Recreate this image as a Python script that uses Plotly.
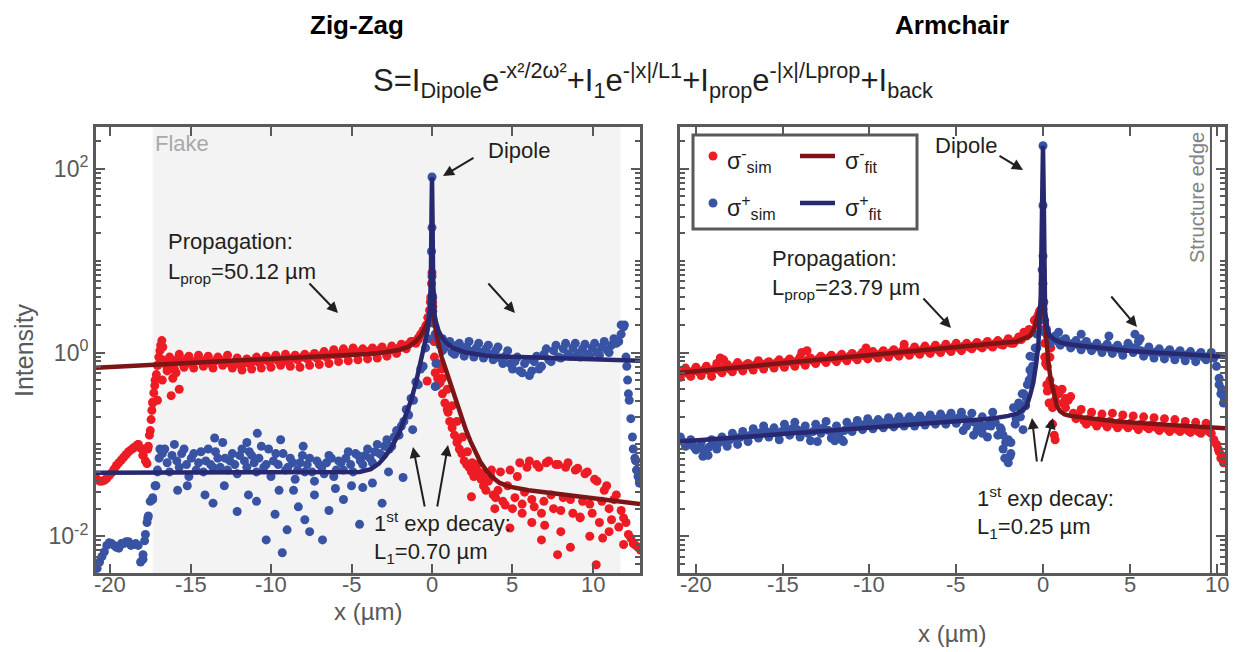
import numpy as np
import plotly.graph_objects as go

OFF = 8                      # page body margin of the browser
W, H = 1238 - OFF, 652 - OFF
FONT = "Arial, Liberation Sans, sans-serif"
AX = "#58595b"
TXT = "#231f20"
RED, BLUE = "#ed1c24", "#3953a4"
RED_FIT, BLUE_FIT = "#7d1517", "#27286f"

# ===================== DATA (log10 of intensity) =====================
# ---- Zig-Zag panel: two interleaved regular x samplings (row a, row b) ----
zz_xa_start, zz_xb_start, zz_x_step = -20.8, -20.65, 0.3
zz_minus_log_a = [
    -1.38, -1.40, -1.37, -1.31, -1.23, -1.17, -1.11, -1.06, -1.02, -1.04, -1.18, -0.85, -0.30, 0.02, -0.12, -0.05,
    -0.18, -0.02, -0.16, -0.04, -0.17, -0.03, -0.15, -0.04, -0.17, -0.05, -0.14, -0.03, -0.17, -0.06, -0.19, -0.07,
    -0.18, -0.05, -0.17, -0.04, -0.16, -0.03, -0.14, -0.02, -0.15, -0.03, -0.16, -0.02, -0.14, -0.01, -0.13, 0.01,
    -0.12, 0.03, -0.10, 0.04, -0.09, 0.05, -0.08, 0.04, -0.07, 0.05, -0.06, 0.06, -0.04, 0.07, -0.01, 0.09, 0.04, 0.12,
    0.10, 0.20, 0.28, 0.55,
    -0.22, -0.33, -0.55, -0.75, -0.90, -1.05, -1.18, -1.25, -1.35, -1.30, -1.45, -1.40, -1.55, -1.50, -1.62, -1.45,
    -1.70, -1.35, -1.65, -1.25, -1.60, -1.22, -1.75, -1.20, -1.55, -1.22, -1.72, -1.25, -1.60, -1.28, -1.80, -1.32,
    -1.65, -1.38, -1.85, -1.50, -1.70, -1.60, -1.90, -1.80, -1.98, -2.08, -2.12]
zz_minus_log_b = [
    -1.40, -1.39, -1.34, -1.27, -1.20, -1.14, -1.08, -1.04, -1.00, -1.12, -1.05, -0.55, -0.14, -0.08, -0.17, -0.09,
    -0.08, -0.11, -0.07, -0.12, -0.09, -0.10, -0.08, -0.12, -0.09, -0.08, -0.11, -0.12, -0.10, -0.13, -0.11, -0.12,
    -0.09, -0.11, -0.08, -0.10, -0.07, -0.09, -0.07, -0.10, -0.06, -0.08, -0.05, -0.07, -0.04, -0.06, -0.03, -0.05,
    -0.02, -0.03, -0.01, -0.02, 0.00, -0.01, 0.01, 0.00, 0.02, 0.00, 0.03, 0.01,
    0.02, 0.03, 0.05, 0.06, 0.09, 0.12, 0.16, 0.24, 0.38, 0.50,
    -0.28, -0.45, -0.62, -0.82, -0.98, -1.10, -1.22, -1.30, -1.28, -1.38, -1.50, -1.35, -1.58, -1.30, -1.66, -1.28,
    -1.58, -1.20, -1.52, -1.18, -1.68, -1.25, -1.62, -1.18, -1.70, -1.22, -1.58, -1.20, -1.75, -1.26, -1.62, -1.30,
    -1.75, -1.40, -1.62, -1.45, -1.82, -1.55, -1.72, -1.85, -2.02, -2.10, -2.15]
zz_plus_log_a = [
    -2.35, -2.22, -2.10, -2.08, -2.12, -2.08, -2.06, -2.10, -2.08, -2.28, -1.98, -1.62, -1.45, -1.05,
    -1.05, -1.30, -1.00, -1.25, -1.05, -1.35, -1.10, -1.20, -1.30, -1.05, -1.25, -1.15, -0.98, -1.28, -1.10, -1.32,
    -1.05, -1.25, -1.12, -1.30, -1.02, -1.22, -1.35, -1.10, -0.95, -1.28, -1.15, -1.38, -1.20, -1.30, -1.15, -1.40,
    -1.22, -1.32, -1.12, -1.35, -1.18, -1.28, -1.08, -1.30, -1.12, -1.22, -1.05, -1.20, -1.00, -1.12, -0.95, -1.02,
    -0.85, -0.80, -0.62, -0.50, -0.32, -0.18, 0.05, 0.40,
    0.20, 0.08, 0.05, 0.12, -0.02, 0.10, -0.04, 0.12, -0.05, 0.10, -0.06, 0.08, -0.08, 0.06, -0.12, 0.02, -0.18,
    -0.05, -0.22, -0.08, -0.20, -0.04, -0.15, 0.04, -0.10, 0.08, -0.06, 0.10, -0.04, 0.10, -0.05, 0.09, -0.04, 0.10,
    -0.03, 0.12, 0.00, 0.15, 0.12, 0.28, -0.45, -1.05, -1.35]
zz_plus_log_b = [
    -2.28, -2.17, -2.07, -2.10, -2.13, -2.08, -2.06, -2.09, -2.10, -2.25, -1.80, -1.58, -1.28, -1.10,
    -1.20, -1.12, -1.18, -1.10, -1.22, -1.15, -1.28, -1.08, -1.18, -1.22, -1.08, -1.25, -1.15, -1.18, -1.22, -1.12,
    -1.18, -1.08, -1.20, -1.15, -1.25, -1.05, -1.18, -1.22, -1.10, -1.25, -1.20, -1.28, -1.12, -1.22, -1.30, -1.18,
    -1.25, -1.20, -1.15, -1.28, -1.20, -1.15, -1.22, -1.10, -1.18, -1.12, -1.15, -1.08, -1.10, -1.02, -1.05, -0.92,
    -0.90, -0.75, -0.68, -0.52, -0.35, -0.15, 0.15, 0.60,
    0.15, 0.02, 0.10, 0.00, 0.08, 0.02, 0.06, 0.01, 0.05, 0.00, 0.04, -0.02, 0.02, -0.06, -0.04, -0.12, -0.10,
    -0.20, -0.12, -0.25, -0.10, -0.18, -0.02, -0.08, 0.02, -0.05, 0.04, -0.02, 0.05, -0.01, 0.04, -0.02, 0.05, 0.00,
    0.06, 0.03, 0.08, 0.10, 0.30, -0.05, -0.72, -1.18, -1.42]
zz_minus_extra_x = [
    -18.25, -17.95, -17.7, -17.62, -17.55, -17.45, -17.4, -17.35, -17.28, -17.22, -17.12, -17.05, -16.97, -16.85,
    -16.78, -16.72, -17.05, -16.75, -16.45, -16.2, -15.7, -16.1, -15.9,
    -0.85, -0.55, -0.35, -0.25, -0.15, -0.08, -0.03, 0.0, 0.04, 0.08, 0.12, 0.15,
    -0.3, 0.3, 0.35, 0.6, 0.65, 0.95, 1.25, 1.0, 1.55, 1.6, 1.9, 2.2, 2.45, 2.5, 2.8, 3.1, 3.4, 3.7,
    4.84, 6.8, 7.8, 9.2, 10.2, 11.9, 6.2, 8.0, 9.8, 5.6, 11.0, 3.9, 7.0, 8.6, 10.6]
zz_minus_extra_log = [
    -1.00, -1.12, -1.21, -1.02, -0.90, -0.73, -0.63, -0.54, -0.44, -0.36, -0.24, -0.14, -0.05, 0.08,
    0.13, 0.06, -0.52, -0.30, -0.20, -0.47, -0.40, -0.28, -0.22,
    0.14, 0.22, 0.30, 0.38, 0.46, 0.60, 0.75, 0.87, 0.55, 0.32, 0.12, -0.05,
    -0.31, -0.36, -0.12, -0.18, -0.28, -0.40, -0.58, -0.65, -0.75, -0.95, -0.92, -1.08, -1.57, -1.20, -1.22,
    -1.32, -1.38, -1.28,
    -1.91, -2.04, -2.20, -1.79, -2.31, -2.09, -1.85, -1.95, -2.00, -1.75, -1.95, -1.70, -1.88, -2.12, -2.02]
zz_plus_extra_x = [
    -17.95, -17.85, -17.7, -17.62, -17.35, -17.15, -17.05, -16.95,
    -14.1, -13.6, -12.1, -10.3, -9.75, -9.3, -9.0, -7.9, -6.8, -4.5, -4.3, -1.8, -3.1,
    -15.8, -15.2, -11.4, -10.9, -8.6, -8.3, -7.3, -6.4, -6.0, -5.5, -5.0, -3.7, -2.7, -12.9, -9.5, -7.6,
    -13.5, -10.85, -11.5, -8.0,
    -1.2, 0.0, 0.0, 0.0, -0.03, 0.02, 0.05, 0.1, 0.2, 0.25, 0.35, 0.65,
    11.75, 11.95, 12.1, 12.15, 12.25, 12.45, 12.6, 12.7, 12.88]
zz_plus_extra_log = [
    -2.20, -2.05, -1.85, -1.78, -1.60, -1.45, -1.30, -1.15,
    -1.55, -1.64, -1.73, -2.04, -1.76, -2.18, -1.93, -1.82, -2.04, -1.87, -1.47, -1.36, -1.64,
    -1.50, -1.45, -1.55, -1.62, -1.50, -1.68, -1.55, -1.72, -1.48, -1.60, -1.45, -1.42, -1.30, -1.45, -1.50, -1.95,
    -0.93, -0.88, -0.98, -1.02,
    -0.84, 1.91, 1.36, 0.83, 1.10, 0.62, 0.45, 0.32, -0.37, -0.12, 0.15, 0.15,
    0.20, 0.30, -0.15, -0.30, -0.52, -0.92, -1.15, -1.28, -1.42]
zz_minus_fit_x = [-20.87, -15, -10, -6, -4, -3, -2, -1.5, -1.0, -0.7, -0.5, -0.3, -0.15, -0.05, 0.0,
                  0.05, 0.15, 0.3, 0.44, 0.6, 0.87, 1.2, 1.5, 1.8, 2.1, 2.4, 2.7, 3.0, 3.4, 3.7, 4.2, 4.8,
                  6.0, 7.9, 10.0, 12.92]
zz_minus_fit_log = [-0.165, -0.115, -0.07, -0.035, -0.015, 0.0, 0.03, 0.06, 0.12, 0.18, 0.24, 0.32, 0.40, 0.60,
                    0.85, 0.55, 0.33, 0.18, 0.065, -0.05, -0.19, -0.37, -0.55, -0.70, -0.84, -0.97, -1.09,
                    -1.19, -1.29, -1.35, -1.42, -1.46, -1.50, -1.54, -1.59, -1.65]
zz_plus_fit_x = [-20.87, -6, -4.5, -3.8, -3.3, -2.9, -2.5, -2.0, -1.6, -1.3, -1.0, -0.75, -0.5, -0.3, -0.15,
                 -0.07, -0.03, 0.0, 0.03, 0.07, 0.15, 0.25, 0.4, 0.6, 0.87, 1.3, 2.1, 3.0, 3.7, 5.5, 7.9,
                 10.5, 12.92]
zz_plus_fit_log = [-1.31, -1.31, -1.30, -1.27, -1.21, -1.13, -1.03, -0.86, -0.68, -0.52, -0.33, -0.15, 0.05,
                   0.22, 0.38, 0.80, 1.50, 1.91, 1.50, 0.80, 0.42, 0.33, 0.24, 0.17, 0.11, 0.05, 0.0, -0.025,
                   -0.04, -0.05, -0.06, -0.075, -0.09]

# ---- Armchair panel ----
ac_xa_start, ac_xb_start, ac_x_step = -20.9, -20.75, 0.3
ac_minus_log_a = [
    -0.27, -0.17, -0.26, -0.16, -0.25, -0.15, -0.26, -0.12, -0.22, -0.13, -0.21, -0.11, -0.20, -0.12, -0.19, -0.09,
    -0.18, -0.10, -0.17, -0.08, -0.16, -0.07, -0.15, -0.05, -0.14, -0.06, -0.12, -0.04, -0.11, -0.03, -0.10, -0.02,
    -0.09, -0.01, -0.08, 0.00, -0.07, 0.01, -0.06, 0.02, -0.05, 0.03, -0.04, 0.05, -0.03, 0.06, -0.02, 0.07, -0.01,
    0.08, 0.00, 0.09, 0.01, 0.10, 0.02, 0.10, 0.04, 0.11, 0.05, 0.12, 0.06, 0.13, 0.08, 0.15, 0.10, 0.17, 0.22, 0.25,
    0.35, 0.45,
    -0.05, -0.30, -0.52, -0.42, -0.60, -0.48, -0.72, -0.62, -0.78, -0.65, -0.80, -0.67, -0.81, -0.66, -0.82, -0.68,
    -0.82, -0.69, -0.84, -0.70, -0.83, -0.71, -0.85, -0.72, -0.86, -0.73, -0.86, -0.75, -0.87, -0.76, -0.88, -0.77,
    -0.88, -1.00, -1.12]
ac_minus_log_b = [
    -0.21, -0.23, -0.20, -0.21, -0.19, -0.20, -0.18, -0.19, -0.16, -0.18, -0.15, -0.16, -0.14, -0.15, -0.13, -0.14,
    -0.12, -0.13, -0.11, -0.12, -0.10, -0.11, -0.09, -0.10, -0.08, -0.09, -0.07, -0.08, -0.06, -0.07, -0.05, -0.06,
    -0.04, -0.05, -0.03, -0.04, -0.02, -0.03, -0.01, -0.02, 0.00, -0.01, 0.01, 0.00, 0.02, 0.01, 0.03, 0.02, 0.04,
    0.03, 0.05, 0.04, 0.06, 0.05, 0.07, 0.06, 0.08, 0.07, 0.09, 0.08, 0.10, 0.09, 0.11, 0.10, 0.13, 0.14, 0.18, 0.22,
    0.30, 0.42,
    -0.15, -0.40, -0.45, -0.55, -0.52, -0.66, -0.70, -0.74, -0.72, -0.76, -0.74, -0.77, -0.75, -0.78, -0.76, -0.79,
    -0.77, -0.80, -0.78, -0.81, -0.79, -0.82, -0.80, -0.83, -0.81, -0.84, -0.82, -0.85, -0.83, -0.86, -0.84, -0.86,
    -0.95, -1.08, -1.18]
ac_plus_log_a = [
    -0.92, -1.02, -0.95, -1.06, -0.98, -1.10, -0.95, -1.05, -0.92, -1.02, -0.88, -1.00, -0.86, -0.97, -0.83, -0.93,
    -0.80, -0.92, -0.82, -0.95, -0.78, -0.90, -0.76, -0.92, -0.80, -0.96, -0.78, -0.88, -0.75, -0.93, -0.80, -0.95,
    -0.76, -0.86, -0.74, -0.84, -0.72, -0.83, -0.73, -0.82, -0.71, -0.81, -0.70, -0.80, -0.70, -0.80, -0.69, -0.79,
    -0.68, -0.78, -0.67, -0.78, -0.66, -0.77, -0.65, -0.80, -0.66, -0.84, -0.70, -0.92, -0.65, -0.90, -1.05, -0.95,
    -0.60, -0.55, -0.45, -0.30, -0.05, 0.35,
    0.22, 0.10, 0.18, 0.08, 0.15, 0.05, 0.13, 0.03, 0.12, 0.02, 0.10, 0.00, 0.09, -0.01, 0.08, -0.03, 0.10, 0.00,
    0.12, -0.04, 0.06, -0.06, 0.04, -0.07, 0.03, -0.08, 0.02, -0.09, 0.01, -0.10, 0.00, -0.08, 0.00, -0.15, -0.40]
ac_plus_log_b = [
    -0.97, -1.00, -1.02, -1.04, -1.06, -1.03, -1.00, -0.98, -0.96, -0.95, -0.93, -0.92, -0.91, -0.90, -0.88, -0.87,
    -0.86, -0.87, -0.88, -0.86, -0.84, -0.83, -0.84, -0.86, -0.88, -0.86, -0.83, -0.82, -0.85, -0.87, -0.88, -0.85,
    -0.81, -0.80, -0.79, -0.78, -0.77, -0.77, -0.76, -0.76, -0.75, -0.75, -0.75, -0.74, -0.74, -0.73, -0.73, -0.73,
    -0.72, -0.72, -0.72, -0.71, -0.72, -0.71, -0.72, -0.74, -0.76, -0.78, -0.80, -0.74, -0.76, -0.82, -0.98, -1.10,
    -0.72, -0.62, -0.50, -0.25, 0.05, 0.90,
    0.18, 0.14, 0.12, 0.13, 0.10, 0.10, 0.08, 0.09, 0.07, 0.06, 0.05, 0.06, 0.04, 0.05, 0.03, 0.04, 0.06, 0.05,
    0.02, 0.01, 0.00, 0.01, -0.01, 0.00, -0.02, -0.01, -0.03, -0.02, -0.04, -0.03, -0.05, -0.04, -0.06, -0.28, -0.50]
ac_minus_extra_x = [
    -0.35, -0.25, -0.12, 0.0, 0.05, 0.1, 0.15, 0.22, 0.35, 0.4, 0.45,
    0.25, 0.5, 0.7, 0.9, 1.1, 1.3, 0.35, 0.55, 0.55, 0.65, 0.7,
    -18.6, -18.4, -13.9, -13.6, -10.2, -8.0, 10.1, 10.25, 10.4]
ac_minus_extra_log = [
    0.38, 0.42, 0.47, 0.47, 0.25, 0.10, -0.12, -0.35, 0.15, -0.05, 0.05,
    -0.42, -0.38, -0.40, -0.45, -0.40, -0.50, -0.55, -0.60, -0.78, -0.90, -0.95,
    -0.06, -0.08, 0.00, 0.02, 0.05, 0.09, -1.05, -1.15, -1.20]
ac_plus_extra_x = [
    -2.3, -2.2, -2.0, -1.9, -1.85, -2.4, -1.15, -1.6, -1.3, -1.2, -1.0, -0.9, -0.75, -0.75, -0.6, -0.45, -0.35,
    -4.6, -4.0, -3.5, -3.0, -19.6, -19.3, -13.0, -12.0, -11.5,
    0.0, 0.0, 0.0, 0.0, -0.05, 0.05, 0.1, 0.2,
    5.3, 3.8, 2.2, 0.9, 5.6, 10.15, 10.25, 10.4]
ac_plus_extra_log = [
    -0.90, -1.15, -1.20, -1.13, -0.98, -0.84, -0.84, -0.78, -0.70, -0.45, -0.58, -0.35, -0.04, -0.19, -0.15,
    0.05, 0.20, -0.85, -0.90, -0.88, -0.80, -1.13, -1.12, -0.97, -0.96, -0.97,
    2.25, 1.05, 1.60, 0.75, 0.45, 0.55, 0.35, 0.25,
    0.20, 0.18, 0.20, 0.22, 0.15, -0.35, -0.45, -0.55]
ac_minus_fit_x = [-20.92, -15, -10, -5, -3, -1.52, -1.2, -0.75, -0.55, -0.29, -0.15, 0.0, 0.1, 0.2, 0.31,
                  0.45, 0.6, 0.8, 0.98, 1.25, 1.56, 2.5, 4.25, 7.0, 10.49]
ac_minus_fit_log = [-0.22, -0.12, -0.035, 0.05, 0.085, 0.12, 0.145, 0.18, 0.24, 0.39, 0.50, 0.60, 0.35, 0.10,
                    -0.11, -0.30, -0.44, -0.58, -0.64, -0.675, -0.69, -0.715, -0.75, -0.785, -0.825]
ac_plus_fit_x = [-20.92, -15, -10, -5, -3, -2, -1.5, -1.2, -0.94, -0.75, -0.56, -0.4, -0.27, -0.13, -0.05, 0.0,
                 0.05, 0.12, 0.25, 0.4, 0.65, 0.98, 1.5, 2.3, 5.2, 10.49]
ac_plus_fit_log = [-0.97, -0.885, -0.81, -0.75, -0.72, -0.69, -0.665, -0.63, -0.58, -0.47, -0.33, -0.13, 0.07,
                   0.61, 1.60, 2.25, 1.60, 0.45, 0.26, 0.18, 0.14, 0.11, 0.09, 0.07, 0.014, -0.045]

x_tick_vals = [-20, -15, -10, -5, 0, 5, 10]
x_tick_text = ["-20", "-15", "-10", "-5", "0", "5", "10"]
y_tick_vals = [1e-2, 1e0, 1e2]
y_tick_text = ["10<sup>-2</sup>", "10<sup>0</sup>", "10<sup>2</sup>"]
flake_edges = [-17.35, 11.7]
structure_edge_x = 9.68


# ===================== FIGURE =====================
def grid(start, step, vals):
    return list(np.round(start + step * np.arange(len(vals)), 3))


def sim(xs, logs, color, xa, ya):
    return go.Scatter(x=xs, y=np.power(10.0, np.array(logs)), mode="markers",
                      marker=dict(size=9, color=color, line=dict(width=0)),
                      xaxis=xa, yaxis=ya, showlegend=False, hoverinfo="skip")


def fit(xs, logs, color, xa, ya):
    return go.Scatter(x=xs, y=np.power(10.0, np.array(logs)), mode="lines",
                      line=dict(color=color, width=4.5), xaxis=xa, yaxis=ya,
                      showlegend=False, hoverinfo="skip")


def series(xa0, xb0, step, la, lb, ex, el):
    xs = grid(xa0, step, la) + grid(xb0, step, lb) + ex
    return xs, la + lb + el


fig = go.Figure()
zmx, zml = series(zz_xa_start, zz_xb_start, zz_x_step, zz_minus_log_a, zz_minus_log_b,
                  zz_minus_extra_x, zz_minus_extra_log)
zpx, zpl = series(zz_xa_start, zz_xb_start, zz_x_step, zz_plus_log_a, zz_plus_log_b,
                  zz_plus_extra_x, zz_plus_extra_log)
fig.add_trace(sim(zmx, zml, RED, "x", "y"))
fig.add_trace(sim(zpx, zpl, BLUE, "x", "y"))
fig.add_trace(fit(zz_minus_fit_x, zz_minus_fit_log, RED_FIT, "x", "y"))
fig.add_trace(fit(zz_plus_fit_x, zz_plus_fit_log, BLUE_FIT, "x", "y"))

amx, aml = series(ac_xa_start, ac_xb_start, ac_x_step, ac_minus_log_a, ac_minus_log_b,
                  ac_minus_extra_x, ac_minus_extra_log)
apx, apl = series(ac_xa_start, ac_xb_start, ac_x_step, ac_plus_log_a, ac_plus_log_b,
                  ac_plus_extra_x, ac_plus_extra_log)
fig.add_trace(sim(amx, aml, RED, "x2", "y2"))
fig.add_trace(sim(apx, apl, BLUE, "x2", "y2"))
fig.add_trace(fit(ac_minus_fit_x, ac_minus_fit_log, RED_FIT, "x2", "y2"))
fig.add_trace(fit(ac_plus_fit_x, ac_plus_fit_log, BLUE_FIT, "x2", "y2"))


def PX(x):
    return (x - OFF) / W


def PY(y):
    return 1 - (y - OFF) / H


ydom = [PY(573), PY(126.5)]
minor_vals = [k * 10.0 ** n for n in range(-3, 3) for k in range(1, 10)
              if not (k == 1 and n in (-2, 0, 2))]

xcommon = dict(showline=True, linewidth=3, linecolor=AX, mirror="allticks", ticks="inside",
               ticklen=9, tickwidth=2, tickcolor=AX, showgrid=False, zeroline=False,
               tickmode="array", tickvals=x_tick_vals, showticklabels=False)
ycommon = dict(type="log", range=[-2.40, 2.46], domain=ydom, showline=True, linewidth=3,
               linecolor=AX, mirror="allticks", ticks="inside", ticklen=9, tickwidth=2,
               tickcolor=AX, showgrid=False, zeroline=False, tickmode="array",
               tickvals=y_tick_vals, ticktext=y_tick_text,
               tickfont=dict(family=FONT, size=23, color=AX),
               minor=dict(tickmode="array", tickvals=minor_vals, ticks="inside", ticklen=5,
                          tickwidth=1.5, tickcolor=AX, showgrid=False))

fig.update_layout(
    width=W, height=H, margin=dict(l=0, r=0, t=0, b=0),
    paper_bgcolor="white", plot_bgcolor="white", showlegend=False,
    font=dict(family=FONT, color=TXT),
    xaxis=dict(xcommon, domain=[PX(96), PX(640)], range=[-20.87, 12.92], anchor="y"),
    yaxis=dict(ycommon, anchor="x"),
    xaxis2=dict(xcommon, domain=[PX(680), PX(1225)], range=[-20.92, 10.49], anchor="y2"),
    yaxis2=dict(ycommon, anchor="x2", showticklabels=False),
)

shapes = [
    dict(type="rect", xref="x", yref="y domain", x0=flake_edges[0], x1=flake_edges[1], y0=0, y1=1,
         fillcolor="#f3f3f3", line=dict(width=0), layer="below"),
    dict(type="line", xref="x2", yref="y2 domain", x0=structure_edge_x, x1=structure_edge_x, y0=0, y1=1,
         line=dict(color=AX, width=2)),
    # legend box
    dict(type="rect", xref="paper", yref="paper", x0=PX(693), x1=PX(917), y0=PY(229), y1=PY(135),
         line=dict(color=AX, width=3), fillcolor="white"),
    dict(type="circle", xref="paper", yref="paper", x0=PX(708.5), x1=PX(717.5), y0=PY(160.5), y1=PY(151.5),
         fillcolor=RED, line=dict(width=0)),
    dict(type="circle", xref="paper", yref="paper", x0=PX(708.5), x1=PX(717.5), y0=PY(207.5), y1=PY(198.5),
         fillcolor=BLUE, line=dict(width=0)),
    dict(type="line", xref="paper", yref="paper", x0=PX(800), x1=PX(835), y0=PY(156), y1=PY(156),
         line=dict(color=RED_FIT, width=4.5)),
    dict(type="line", xref="paper", yref="paper", x0=PX(800), x1=PX(835), y0=PY(203), y1=PY(203),
         line=dict(color=BLUE_FIT, width=4.5)),
]
fig.update_layout(shapes=shapes)

ann = []


def text(s, x, y, size=22, color=TXT, xanchor="left", yanchor="middle", bold=False, angle=0):
    if bold:
        s = "<b>" + s + "</b>"
    ann.append(dict(text=s, x=PX(x), y=PY(y), xref="paper", yref="paper", showarrow=False,
                    xanchor=xanchor, yanchor=yanchor, textangle=angle,
                    font=dict(family=FONT, size=size, color=color)))


def arrow(hx, hy, tx, ty):
    ann.append(dict(text="", x=PX(hx), y=PY(hy), xref="paper", yref="paper", showarrow=True,
                    ax=tx - hx, ay=ty - hy, axref="pixel", ayref="pixel", arrowhead=2,
                    arrowsize=1.1, arrowwidth=2, arrowcolor=TXT))


# x tick labels (placed just under the axis line, like the reference)
for xref in ("x", "x2"):
    for v, t in zip(x_tick_vals, x_tick_text):
        ann.append(dict(text=t, x=v, y=PY(584), xref=xref, yref="paper", showarrow=False,
                        xanchor="center", yanchor="middle",
                        font=dict(family=FONT, size=22, color=AX)))

text("Zig-Zag", 357, OFF, size=26, color="black", xanchor="center", yanchor="top", bold=True)
text("Armchair", 952, OFF, size=26, color="black", xanchor="center", yanchor="top", bold=True)
text("S=I<sub>Dipole</sub>e<sup>-x\u00b2/2\u03c9\u00b2</sup>+I<sub>1</sub>e<sup>-|x|/L1</sup>"
     "+I<sub>prop</sub>e<sup>-|x|/Lprop</sup>+I<sub>back</sub>", 653, 80, size=31,
     xanchor="center")
text("Intensity", 24, 350, size=25, color=AX, xanchor="center", angle=-90)
text("x (\u00b5m)", 368, 611, size=24, color=AX, xanchor="center")
text("x (\u00b5m)", 952, 633, size=24, color=AX, xanchor="center")

# left panel
text("Flake", 153, 143, size=22, color="#a7a9ac")
text("Dipole", 519, 150, xanchor="center")
arrow(443, 176, 475, 157)
text("Propagation:", 166, 242)
text("L<sub>prop</sub>=50.12 \u00b5m", 166, 273)
arrow(338, 313, 308, 282)
arrow(515, 313, 487, 282)
text("1<sup>st</sup> exp decay:", 372, 522)
text("L<sub>1</sub>=0.70 \u00b5m", 372, 553)
arrow(413, 447, 425, 508)
arrow(448, 445, 437, 508)

# right panel
text("Dipole", 966, 145, xanchor="center")
arrow(1023, 170, 998, 155)
text("Propagation:", 770, 258)
text("L<sub>prop</sub>=23.79 \u00b5m", 770, 289)
arrow(951, 328, 922, 297)
arrow(1137, 327, 1110, 295)
text("1<sup>st</sup> exp decay:", 975, 497)
text("L<sub>1</sub>=0.25 \u00b5m", 975, 528)
arrow(1032, 418, 1037, 463)
arrow(1053, 418, 1041, 463)
text("Structure edge", 1197, 198, size=20, color="#808285", xanchor="center", angle=-90)

# legend texts
text("\u03c3<sup>-</sup><sub>sim</sub>", 725, 160, size=23)
text("\u03c3<sup>-</sup><sub>fit</sub>", 843, 160, size=23)
text("\u03c3<sup>+</sup><sub>sim</sub>", 725, 207, size=23)
text("\u03c3<sup>+</sup><sub>fit</sub>", 843, 207, size=23)

fig.update_layout(annotations=ann)
fig.write_html("out.html")
